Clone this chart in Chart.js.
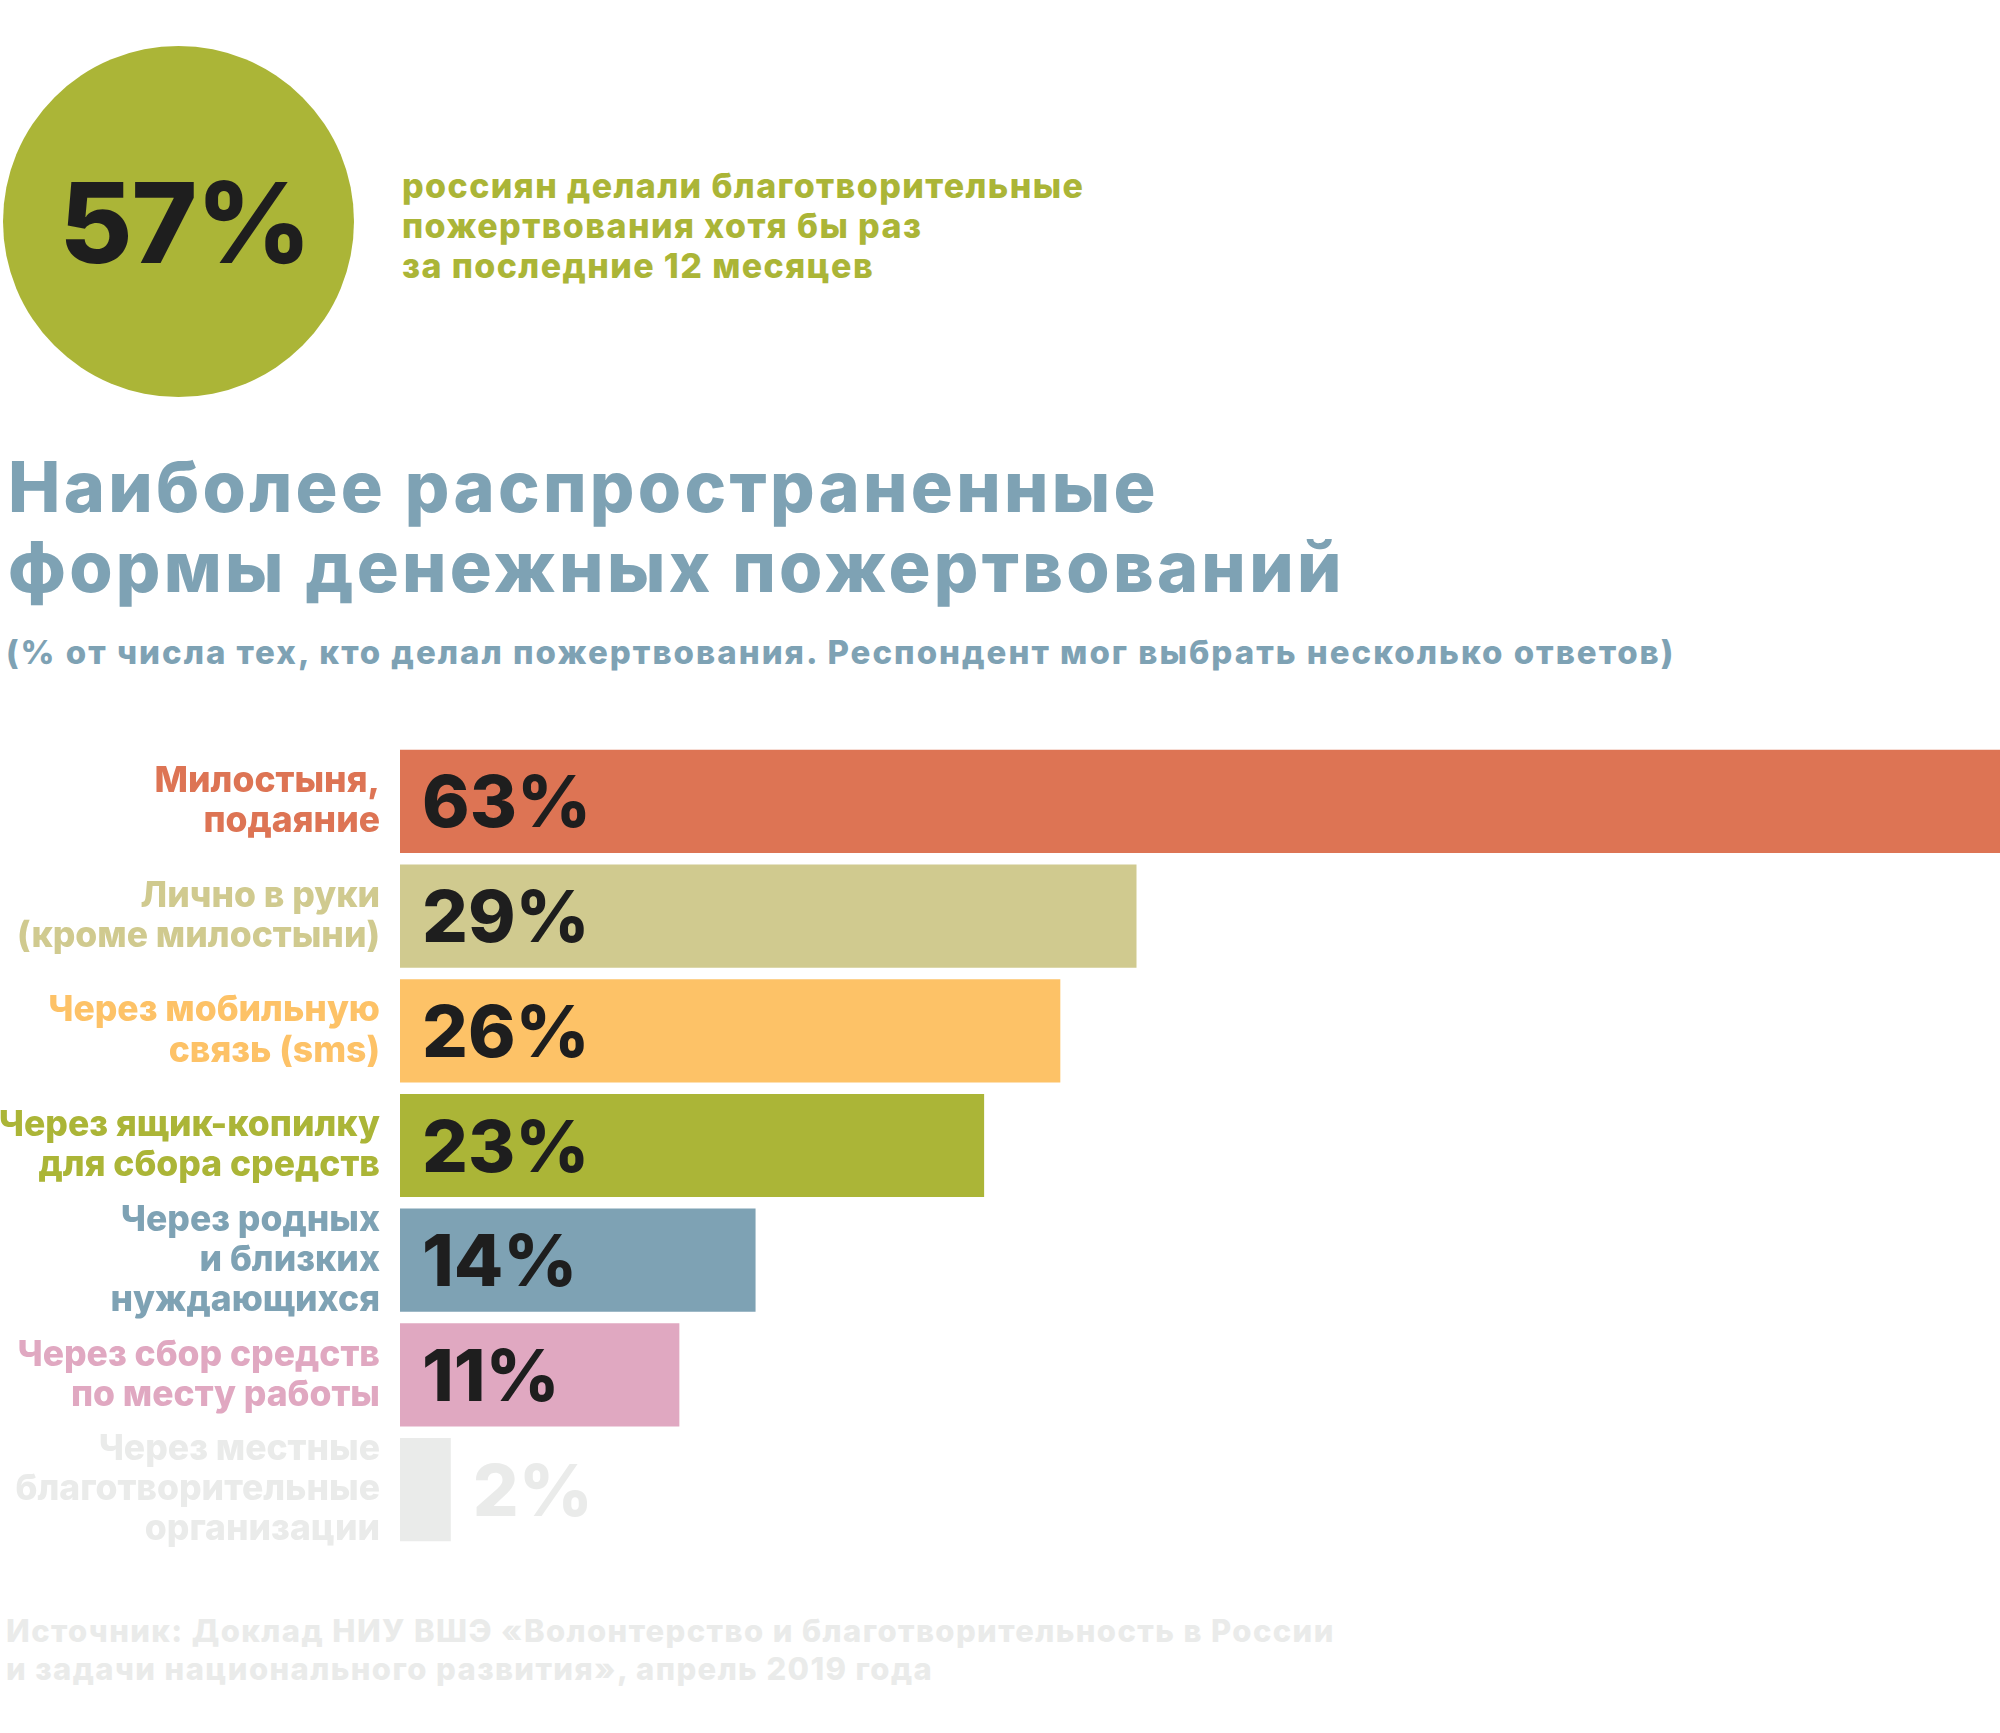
<!DOCTYPE html>
<html>
<head>
<meta charset="utf-8">
<script src="https://cdn.jsdelivr.net/npm/chart.js@4"></script>
<style>
  html, body { margin: 0; padding: 0; background: #fff; }
  body { width: 2000px; height: 1733px; position: relative; overflow: hidden; font-family: Inter, 'Noto Sans', sans-serif; font-weight: 800; }
  .circle { position: absolute; left: 3px; top: 46px; width: 351px; height: 351px; border-radius: 50%; background: #ABB537; }
  .big { position: absolute; left: 0; top: 166px; width: 370px; text-align: center; font-size: 112px; line-height: 112px; color: #1E1E1E; letter-spacing: -1px; }
  .lead { position: absolute; left: 402px; top: 166px; font-size: 34px; line-height: 40px; color: #ABB537; letter-spacing: 1.4px; }
  .title { position: absolute; left: 8px; top: 447px; font-size: 70px; line-height: 80px; color: #7EA2B4; letter-spacing: 3.3px; }
  .sub { position: absolute; left: 6px; top: 632px; font-size: 33px; line-height: 40px; color: #7EA2B4; letter-spacing: 2px; }
  .src { position: absolute; left: 6px; top: 1612px; font-size: 31px; line-height: 38px; color: #EAEBEA; letter-spacing: 1.4px; }
  #chart { position: absolute; left: 0; top: 0; }
</style>
</head>
<body>
<div class="circle"></div>
<div class="big">57%</div>
<div class="lead">россиян делали благотворительные<br>пожертвования хотя бы раз<br>за последние 12 месяцев</div>
<div class="title">Наиболее распространенные<br>формы денежных пожертвований</div>
<div class="sub">(% от числа тех, кто делал пожертвования. Респондент мог выбрать несколько ответов)</div>
<div class="src">Источник: Доклад НИУ ВШЭ «Волонтерство и благотворительность в России<br>и задачи национального развития», апрель 2019 года</div>
<canvas id="chart" width="2000" height="1733"></canvas>
<script>
const categories = [
  ['Милостыня,', 'подаяние'],
  ['Лично в руки', '(кроме милостыни)'],
  ['Через мобильную', 'связь (sms)'],
  ['Через ящик-копилку', 'для сбора средств'],
  ['Через родных', 'и близких', 'нуждающихся'],
  ['Через сбор средств', 'по месту работы'],
  ['Через местные', 'благотворительные', 'организации']
];
const values = [63, 29, 26, 23, 14, 11, 2];
const colors = ['#DD7454', '#D0CA8F', '#FDC267', '#ABB537', '#7EA2B4', '#E0A8C1', '#EAEBEA'];

const FONT = "Inter, 'Noto Sans', sans-serif";

// percent labels: inside the bar, or after it when the bar is too short
const valueLabels = {
  id: 'valueLabels',
  afterDatasetsDraw(chart) {
    const ctx = chart.ctx;
    const meta = chart.getDatasetMeta(0);
    ctx.save();
    ctx.font = `800 72px ${FONT}`;
    ctx.textAlign = 'left';
    ctx.textBaseline = 'alphabetic';
    meta.data.forEach((bar, i) => {
      const v = values[i];
      const inside = v >= 5;
      ctx.fillStyle = inside ? '#1E1E1E' : colors[i];
      const x = inside ? bar.base + 22 : bar.x + 22;
      ctx.fillText(v + '%', x, bar.y + 26);
    });
    ctx.restore();
  }
};

new Chart(document.getElementById('chart'), {
  type: 'bar',
  data: {
    labels: categories,
    datasets: [{
      data: values,
      backgroundColor: colors,
      borderWidth: 0,
      barPercentage: 0.9,
      categoryPercentage: 1
    }]
  },
  options: {
    indexAxis: 'y',
    responsive: false,
    animation: false,
    layout: { padding: { top: 744, bottom: 186, left: 0, right: 0 } },
    plugins: { legend: { display: false }, tooltip: { enabled: false } },
    scales: {
      x: { display: false, min: 0, max: 63 },
      y: {
        grid: { display: false, drawTicks: false },
        border: { display: false },
        afterFit: (scale) => { scale.width = 400; },
        ticks: {
          autoSkip: false,
          padding: 20,
          color: colors,
          font: { family: FONT, size: 35.5, weight: '800', lineHeight: 1.13 }
        }
      }
    }
  },
  plugins: [valueLabels]
});
</script>
</body>
</html>
